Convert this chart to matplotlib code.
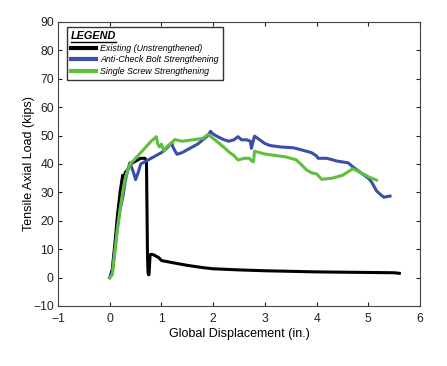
import matplotlib
matplotlib.use("Agg")
import matplotlib.pyplot as plt
from matplotlib.lines import Line2D

plt.rcParams['font.family'] = ['Liberation Sans', 'DejaVu Sans']

# Existing (Unstrengthened)
x_black = [0, 0.02, 0.05, 0.1, 0.15, 0.2, 0.25, 0.28, 0.3, 0.35, 0.4, 0.5, 0.6, 0.68, 0.71,
           0.72, 0.73, 0.74, 0.75, 0.76, 0.78, 0.8, 0.85, 0.9, 0.95, 1.0, 1.2, 1.5, 1.8,
           2.0, 2.5, 3.0, 3.5, 4.0, 4.5, 5.0, 5.5, 5.6]
y_black = [0, 1, 3, 12, 22, 30, 36, 35, 37, 38, 40, 41, 42, 42, 41,
           25, 8, 2, 1, 1, 8, 8.2, 8, 7.5, 7, 6, 5.3, 4.3, 3.5,
           3.1, 2.7, 2.4, 2.2, 2.0, 1.9, 1.8, 1.7, 1.5]

# Anti-Check Bolt Strengthening
x_blue = [0, 0.05, 0.1, 0.15, 0.2, 0.26, 0.3, 0.35, 0.39, 0.42, 0.46, 0.5, 0.55, 0.6,
          0.7, 0.8, 0.9, 1.0, 1.1, 1.2, 1.22, 1.3, 1.4, 1.5, 1.6, 1.7, 1.8, 1.9, 1.95,
          2.0, 2.1, 2.2, 2.3, 2.4, 2.48, 2.55, 2.65, 2.72, 2.74, 2.76, 2.8, 2.9, 3.0,
          3.1, 3.3, 3.55, 3.7, 3.9, 4.0, 4.03, 4.2, 4.4, 4.61, 4.7, 4.85, 5.0, 5.05,
          5.1, 5.16, 5.22, 5.3, 5.42]
y_blue = [0, 2, 10, 18, 24, 29, 34, 38, 40.4, 39, 37, 34.5, 37, 40,
          41, 42, 43, 44, 45.5, 47.5, 46, 43.4, 44, 45, 46, 47, 48.5, 50, 51.5,
          50.5, 49.5, 48.6, 48, 48.5, 49.6, 48.5, 48.5, 48, 45.5, 47, 49.8, 48.5, 47.2,
          46.5, 46, 45.7, 45, 44, 42.8, 42, 42, 41, 40.4, 39, 37, 35, 34,
          32.5, 30.5, 29.5, 28.3, 28.7]

# Single Screw Strengthening
x_green = [0, 0.05, 0.1, 0.15, 0.2, 0.25, 0.3, 0.35, 0.4, 0.5, 0.6, 0.7, 0.8, 0.84,
           0.9, 0.93, 0.96, 1.0, 1.05, 1.1, 1.2, 1.26, 1.4, 1.6, 1.8, 1.9, 2.0, 2.1,
           2.2, 2.32, 2.4, 2.48, 2.6, 2.7, 2.75, 2.78, 2.8, 3.0, 3.2, 3.4, 3.6, 3.7,
           3.8, 3.9, 4.0, 4.1, 4.3, 4.5, 4.7, 4.85, 5.0, 5.16]
y_green = [0, 1, 9, 17, 24, 30, 35, 38, 40, 42, 44, 46, 48, 48.6,
           49.6, 47, 46, 47, 44.5, 46, 47.5, 48.6, 48, 48.5, 49, 50.4, 49, 47.5,
           46, 44, 43, 41.4, 42, 42, 41, 40.8, 44.5, 43.5, 43, 42.5, 41.5, 39.9,
           38, 36.9, 36.5, 34.6, 35, 36, 38.3, 37, 35.5, 34.3]

labels = ['Existing (Unstrengthened)', 'Anti-Check Bolt Strengthening',
          'Single Screw Strengthening']
colors = ['#000000', '#3b4ea8', '#5fbf3c']

fig = plt.figure(figsize=(4.47, 3.66), dpi=100)
ax = fig.add_axes([0.1298, 0.164, 0.8098, 0.776])

ax.plot(x_black, y_black, color=colors[0], lw=2.2, label=labels[0], zorder=2)
ax.plot(x_blue, y_blue, color=colors[1], lw=2.2, label=labels[1], zorder=2.5)
ax.plot(x_green, y_green, color=colors[2], lw=2.2, label=labels[2], zorder=3)

ax.set_xlim(-1, 6)
ax.set_ylim(-10, 90)
ax.set_xticks(range(-1, 7))
ax.set_yticks(range(-10, 91, 10))
ax.tick_params(direction='in', top=True, right=True, labelsize=8.7, length=3,
               colors='#222222')
ax.tick_params(axis='x', pad=5)
ax.tick_params(axis='y', pad=3)
ax.set_xlabel('Global Displacement (in.)', fontsize=9, labelpad=2)
ax.set_ylabel('Tensile Axial Load (kips)', fontsize=9, labelpad=-1.5)
for s in ax.spines.values():
    s.set_linewidth(0.8)
    s.set_color('#444444')

leg = ax.legend(loc='upper left', title='LEGEND', fontsize=6.4, frameon=True,
                fancybox=False, edgecolor='#333333', framealpha=1,
                handlelength=2.8, handletextpad=0.5, borderaxespad=0,
                borderpad=0.45, labelspacing=0.3, alignment='left',
                bbox_to_anchor=(0.025, 0.982))
leg.get_frame().set_linewidth(1.0)
title = leg.get_title()
title.set_fontsize(7.8)
title.set_fontweight('bold')
title.set_fontstyle('italic')
for t in leg.get_texts():
    t.set_fontstyle('italic')
for h in leg.get_lines():
    h.set_linewidth(3)

fig.canvas.draw()
bb = title.get_window_extent().transformed(fig.transFigure.inverted())
fig.add_artist(Line2D([bb.x0, bb.x1], [bb.y0 - 0.002, bb.y0 - 0.002],
                      transform=fig.transFigure, color='black', lw=1.0))

fig.savefig('out.png', dpi=100)
